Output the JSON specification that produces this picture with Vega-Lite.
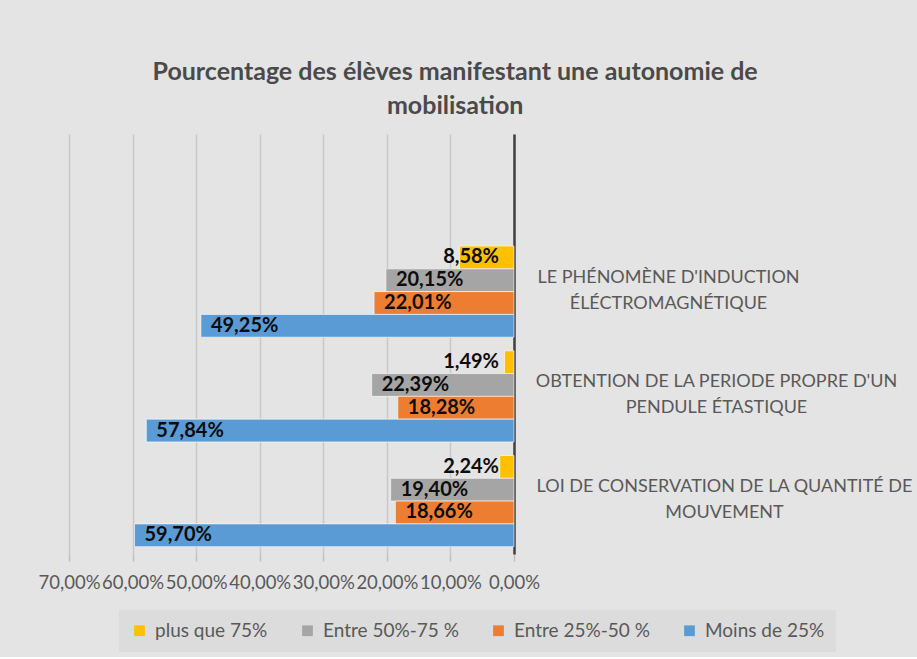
{
  "$schema": "https://vega.github.io/schema/vega-lite/v6.json",
  "width": 445,
  "height": 420,
  "padding": {"left": 38, "top": 60, "right": 5, "bottom": 5},
  "background": "#e4e4e4",
  "title": {
    "text": ["Pourcentage des élèves manifestant une autonomie de", "mobilisation"],
    "font": "Lato",
    "fontSize": 25,
    "fontWeight": "bold",
    "color": "#4a4a4a",
    "lineHeight": 34,
    "anchor": "middle",
    "frame": "bounds",
    "dx": -20,
    "offset": 15
  },
  "data": {
    "values": [
      {"cat": "LE PHÉNOMÈNE D'INDUCTION|ÉLÉCTROMAGNÉTIQUE", "series": "plus que 75%", "value": 0.0858},
      {"cat": "LE PHÉNOMÈNE D'INDUCTION|ÉLÉCTROMAGNÉTIQUE", "series": "Entre 50%-75 %", "value": 0.2015},
      {"cat": "LE PHÉNOMÈNE D'INDUCTION|ÉLÉCTROMAGNÉTIQUE", "series": "Entre 25%-50 %", "value": 0.2201},
      {"cat": "LE PHÉNOMÈNE D'INDUCTION|ÉLÉCTROMAGNÉTIQUE", "series": "Moins de 25%", "value": 0.4925},
      {"cat": "OBTENTION DE LA PERIODE PROPRE D'UN|PENDULE ÉTASTIQUE", "series": "plus que 75%", "value": 0.0149},
      {"cat": "OBTENTION DE LA PERIODE PROPRE D'UN|PENDULE ÉTASTIQUE", "series": "Entre 50%-75 %", "value": 0.2239},
      {"cat": "OBTENTION DE LA PERIODE PROPRE D'UN|PENDULE ÉTASTIQUE", "series": "Entre 25%-50 %", "value": 0.1828},
      {"cat": "OBTENTION DE LA PERIODE PROPRE D'UN|PENDULE ÉTASTIQUE", "series": "Moins de 25%", "value": 0.5784},
      {"cat": "LOI DE CONSERVATION DE LA QUANTITÉ DE|MOUVEMENT", "series": "plus que 75%", "value": 0.0224},
      {"cat": "LOI DE CONSERVATION DE LA QUANTITÉ DE|MOUVEMENT", "series": "Entre 50%-75 %", "value": 0.1940},
      {"cat": "LOI DE CONSERVATION DE LA QUANTITÉ DE|MOUVEMENT", "series": "Entre 25%-50 %", "value": 0.1866},
      {"cat": "LOI DE CONSERVATION DE LA QUANTITÉ DE|MOUVEMENT", "series": "Moins de 25%", "value": 0.5970}
    ]
  },
  "encoding": {
    "y": {
      "field": "cat",
      "type": "nominal",
      "scale": {
        "domain": [" ", "LE PHÉNOMÈNE D'INDUCTION|ÉLÉCTROMAGNÉTIQUE", "OBTENTION DE LA PERIODE PROPRE D'UN|PENDULE ÉTASTIQUE", "LOI DE CONSERVATION DE LA QUANTITÉ DE|MOUVEMENT"],
        "paddingInner": 0.13,
        "paddingOuter": 0.07
      },
      "axis": {
        "orient": "right",
        "title": null,
        "domain": true,
        "domainColor": "#404040",
        "domainWidth": 2.5,
        "ticks": false,
        "grid": false,
        "labelFont": "Lato",
        "labelFontSize": 18,
        "labelColor": "#595959",
        "labelLimit": 0,
        "labelAlign": "center",
        "labelBaseline": "middle",
        "labelLineHeight": 26,
        "labelOffset": -14,
        "labelExpr": "split(datum.label, '|')",
        "labelPadding": {
          "condition": [
            {"test": "indexof(datum.value, 'LE PH') == 0", "value": 154},
            {"test": "indexof(datum.value, 'OBT') == 0", "value": 202}
          ],
          "value": 210
        }
      }
    },
    "yOffset": {
      "field": "series",
      "type": "nominal",
      "sort": ["plus que 75%", "Entre 50%-75 %", "Entre 25%-50 %", "Moins de 25%"],
      "scale": {"paddingInner": 0, "paddingOuter": 0}
    },
    "x": {
      "field": "value",
      "type": "quantitative",
      "scale": {"domain": [0, 0.7], "reverse": true, "nice": false},
      "axis": {
        "title": null,
        "format": ".2%",
        "values": [0, 0.1, 0.2, 0.3, 0.4, 0.5, 0.6, 0.7],
        "grid": true,
        "gridColor": "#c8c8c8",
        "gridWidth": 1.5,
        "domain": false,
        "ticks": true,
        "tickSize": 7,
        "tickColor": "#c0c0c0",
        "tickWidth": 1.5,
        "labelOverlap": false,
        "labelFlush": false,
        "labelBound": false,
        "labelFont": "Lato",
        "labelFontSize": 18.5,
        "labelColor": "#595959",
        "labelPadding": 12
      }
    }
  },
  "layer": [
    {
      "mark": {"type": "bar", "stroke": "#ffffff", "strokeWidth": 1, "strokeOpacity": 0.6},
      "encoding": {
        "color": {
          "field": "series",
          "type": "nominal",
          "scale": {
            "domain": ["plus que 75%", "Entre 50%-75 %", "Entre 25%-50 %", "Moins de 25%"],
            "range": ["#FFC000", "#A5A5A5", "#ED7D31", "#5B9BD5"]
          },
          "legend": {
            "title": null,
            "orient": "none",
            "direction": "horizontal",
            "legendX": 50,
            "legendY": 476,
            "fillColor": "#dcdcdc",
            "padding": 11,
            "symbolType": "square",
            "symbolSize": 115,
            "symbolStrokeWidth": 0,
            "labelFont": "Lato",
            "labelFontSize": 19,
            "labelColor": "#595959",
            "columnPadding": 30,
            "labelOffset": 6,
            "labelLimit": 0
          }
        }
      }
    },
    {
      "transform": [{"filter": "datum.value >= 0.1"}],
      "mark": {"type": "text", "align": "left", "baseline": "middle", "dx": 10, "font": "Lato", "fontSize": 20, "fontWeight": "bold", "color": "#0d0d0d"},
      "encoding": {
        "text": {"field": "value", "type": "quantitative", "format": ".2%"}
      }
    },
    {
      "transform": [{"filter": "datum.value < 0.1"}],
      "mark": {"type": "text", "align": "right", "baseline": "middle", "dx": -15, "font": "Lato", "fontSize": 20, "fontWeight": "bold", "color": "#0d0d0d"},
      "encoding": {
        "x": {"datum": 0, "type": "quantitative"},
        "text": {"field": "value", "type": "quantitative", "format": ".2%"}
      }
    }
  ],
  "config": {
    "locale": {
      "number": {"decimal": ",", "thousands": " ", "grouping": [3], "currency": ["", " €"]}
    },
    "view": {"stroke": null}
  }
}
